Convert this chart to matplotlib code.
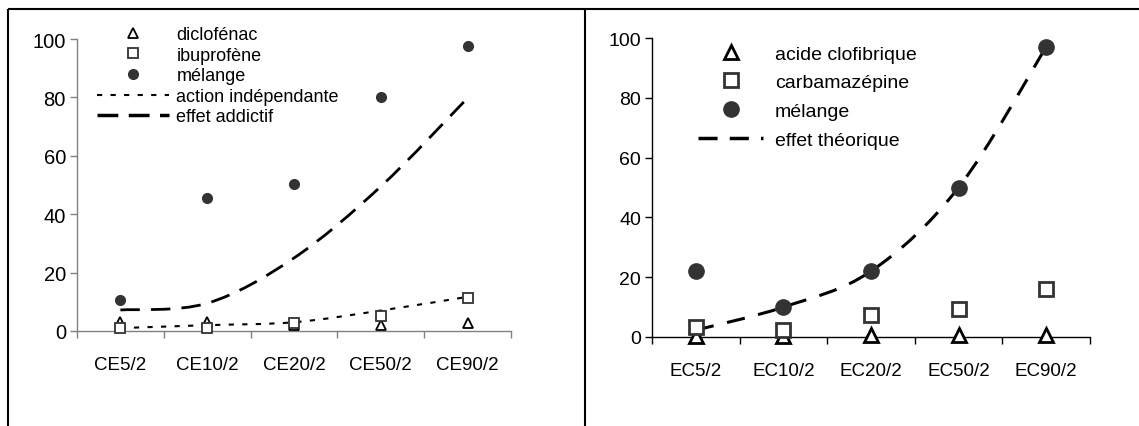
import matplotlib
matplotlib.use('Agg')
import matplotlib.pyplot as plt
from matplotlib.lines import Line2D
from matplotlib.path import Path
from matplotlib.patches import PathPatch

plt.rcParams['font.family'] = ['Liberation Sans', 'DejaVu Sans']
plt.rcParams['font.size'] = 13

# left panel
left_categories = ['CE5/2', 'CE10/2', 'CE20/2', 'CE50/2', 'CE90/2']
diclofenac = [3, 3, 2, 2, 2.6]
ibuprofene = [1, 1, 2.6, 5.3, 11.4]
melange_left = [10.5, 45.5, 50.2, 80.3, 97.5]
action_independante = [1, 2, 3, 7, 11.7]
effet_addictif = [7.2, 9.5, 25, 49.5, 79.8]

# right panel
right_categories = ['EC5/2', 'EC10/2', 'EC20/2', 'EC50/2', 'EC90/2']
acide_clofibrique = [0.4, 0.4, 0.8, 0.8, 0.8]
carbamazepine = [3.3, 2.2, 7.2, 9.2, 16.2]
melange_right = [22, 10, 22, 50, 97]
effet_theorique = [2.3, 10, 22, 50, 97]

W, H = 1139, 427


def smooth_path(xs, ys):
    # excel-style smoothed line: catmull-rom segments as cubic beziers
    pts = list(zip(xs, ys))
    verts = [pts[0]]
    codes = [Path.MOVETO]
    for i in range(len(pts) - 1):
        p0 = pts[i - 1] if i > 0 else pts[i]
        p1 = pts[i]
        p2 = pts[i + 1]
        p3 = pts[i + 2] if i + 2 < len(pts) else pts[i + 1]
        c1 = (p1[0] + (p2[0] - p0[0]) / 6, p1[1] + (p2[1] - p0[1]) / 6)
        c2 = (p2[0] - (p3[0] - p1[0]) / 6, p2[1] - (p3[1] - p1[1]) / 6)
        verts += [c1, c2, p2]
        codes += [Path.CURVE4] * 3
    return Path(verts, codes)


def style_axes(ax, categories, axis_color, ysize):
    n = len(categories)
    ax.set_xlim(0.5, n + 0.5)
    ax.set_ylim(0, 100)
    ax.set_yticks(range(0, 101, 20))
    ax.set_xticks([i + 1 for i in range(n)])
    ax.set_xticklabels(categories)
    ax.set_xticks([i + 0.5 for i in range(n + 1)], minor=True)
    ax.tick_params(axis='x', which='major', length=0, pad=18, labelsize=13.5)
    ax.tick_params(axis='x', which='minor', length=5, width=1, color=axis_color, direction='out')
    ax.tick_params(axis='y', length=5, width=1, color=axis_color, pad=3, labelsize=ysize)
    for s in ['top', 'right']:
        ax.spines[s].set_visible(False)
    for s in ['left', 'bottom']:
        ax.spines[s].set_color(axis_color)
        ax.spines[s].set_linewidth(1)
    ax.patch.set_alpha(0)


fig = plt.figure(figsize=(W / 100, H / 100), dpi=100)

# ---- left chart
ax1 = fig.add_axes([77 / W, (H - 332) / H, 434 / W, 292 / H])
style_axes(ax1, left_categories, '#808080', 14.5)
x = [i + 1 for i in range(len(left_categories))]
ax1.add_patch(PathPatch(smooth_path(x, effet_addictif), fill=False, color='black',
                        lw=2, linestyle=(0, (7, 4)), capstyle='butt', clip_on=False))
ax1.add_patch(PathPatch(smooth_path(x, action_independante), fill=False, color='black',
                        lw=1.5, linestyle=(0, (2.5, 4)), capstyle='butt', clip_on=False))
ax1.plot(x, melange_left, 'o', ms=7, color='#333333', clip_on=False, zorder=3)
ax1.plot(x, diclofenac, '^', ms=7, mfc='white', mec='black', mew=1.3, clip_on=False, zorder=3)
ax1.plot(x, ibuprofene, 's', ms=6.5, mfc='white', mec='#333333', mew=1.3, clip_on=False, zorder=4)

handles1 = [
    Line2D([], [], ls='none', marker='^', ms=7, mfc='white', mec='black', mew=1.3),
    Line2D([], [], ls='none', marker='s', ms=6.5, mfc='white', mec='#333333', mew=1.3),
    Line2D([], [], ls='none', marker='o', ms=7, color='#333333'),
    Line2D([], [], color='black', lw=1.5, ls=(0, (2.5, 4))),
    Line2D([], [], color='black', lw=2.5, ls=(0, (6, 3))),
]
labels1 = ['diclofénac', 'ibuprofène', 'mélange', 'action indépendante', 'effet addictif']
fig.legend(handles1, labels1, loc='upper left', bbox_to_anchor=(97 / W, 1 - 27 / H),
           frameon=False, borderpad=0, handlelength=4.0, handletextpad=0.4,
           labelspacing=0.2, borderaxespad=0, fontsize=13)

# ---- right chart
ax2 = fig.add_axes([652 / W, (H - 338) / H, 438 / W, 299 / H])
style_axes(ax2, right_categories, 'black', 14)
x = [i + 1 for i in range(len(right_categories))]
ax2.add_patch(PathPatch(smooth_path(x, effet_theorique), fill=False, color='black',
                        lw=2.2, linestyle=(0, (6, 4.5)), capstyle='butt', clip_on=False))
ax2.plot(x, melange_right, 'o', ms=11, color='#333333', clip_on=False, zorder=3)
ax2.plot(x, carbamazepine, 's', ms=9.5, mfc='white', mec='#333333', mew=2, clip_on=False, zorder=4)
ax2.plot(x, acide_clofibrique, '^', ms=9.5, mfc='white', mec='black', mew=2, clip_on=False, zorder=3)

handles2 = [
    Line2D([], [], ls='none', marker='^', ms=9.5, mfc='white', mec='black', mew=2),
    Line2D([], [], ls='none', marker='s', ms=9.5, mfc='white', mec='#333333', mew=2),
    Line2D([], [], ls='none', marker='o', ms=11, color='#333333'),
    Line2D([], [], color='black', lw=2.5, ls=(0, (5.5, 3.5))),
]
labels2 = ['acide clofibrique', 'carbamazépine', 'mélange', 'effet théorique']
fig.legend(handles2, labels2, loc='upper left', bbox_to_anchor=(698 / W, 1 - 46 / H),
           frameon=False, borderpad=0, handlelength=3.35, handletextpad=0.6,
           labelspacing=0.57, borderaxespad=0, fontsize=14)

# frame around the two panels
frame = dict(color='black', lw=1.5, transform=fig.transFigure, solid_capstyle='butt')
fig.add_artist(Line2D([8 / W, 1], [1 - 10 / H, 1 - 10 / H], **frame))
fig.add_artist(Line2D([8 / W, 8 / W], [0, 1 - 10 / H], **frame))
fig.add_artist(Line2D([585 / W, 585 / W], [0, 1 - 10 / H], **frame))

fig.savefig('out.png', dpi=100)
